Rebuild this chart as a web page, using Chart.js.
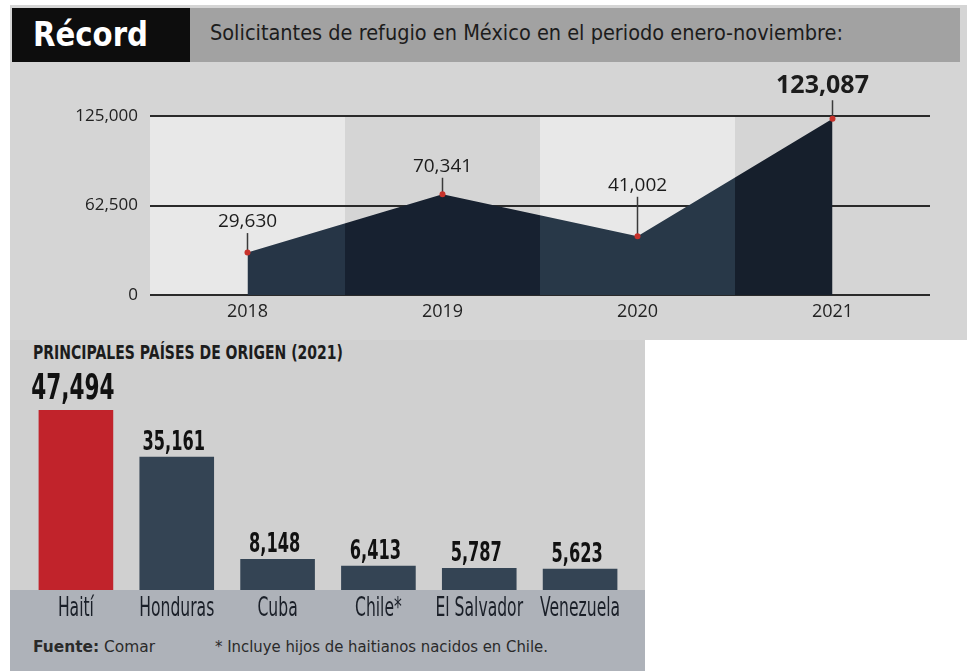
<!DOCTYPE html>
<html lang="es">
<head>
<meta charset="utf-8">
<title>Récord - Solicitantes de refugio en México</title>
<script src="https://cdn.jsdelivr.net/npm/chart.js@4.4.1/dist/chart.umd.min.js"></script>
<style>
  body { margin: 0; background: #fff; width: 967px; height: 671px; position: relative; overflow: hidden; font-family: "Open Sans", "Noto Sans", sans-serif; }
  .abs { position: absolute; }
  #topBg { left: 10px; top: 5px; width: 957px; height: 335px; background: #d5d5d5; }
  #headBand { left: 190px; top: 8px; width: 770px; height: 54px; background: #a2a2a2; }
  #recordBox { left: 12px; top: 8px; width: 178px; height: 54px; background: #0d0d0d; }
  #recordTxt { left: 33px; top: 8px; height: 54px; color: #fff; white-space: nowrap;
    font: bold 33px "DejaVu Sans", sans-serif; line-height: 54px; }
  #headTitle { left: 210px; top: 8px; height: 54px; color: #1c1c1c; white-space: nowrap;
    font: 21px "DejaVu Sans", sans-serif; line-height: 50px; }
  #botBg { left: 10px; top: 340px; width: 635px; height: 331px; background: #d0d0d0; }
  #botBand { left: 10px; top: 590px; width: 635px; height: 81px; background: #aeb2b9; }
  #botTitle { left: 33px; top: 340px; color: #1c1c1c; white-space: nowrap;
    font: bold 20px "DejaVu Sans", sans-serif; }
  #footer { left: 33px; top: 637px; color: #2a2a2a; white-space: nowrap; font: 16px "DejaVu Sans", sans-serif; }
  #note { left: 215px; top: 637px; color: #2a2a2a; white-space: nowrap; font: 16px "DejaVu Sans", sans-serif; }
  #topChart { left: 0; top: 70px; }
  #botChart { left: 0; top: 340px; }
</style>
</head>
<body>
<div class="abs" id="topBg"></div>
<div class="abs" id="headBand"></div>
<div class="abs" id="recordBox"></div>
<div class="abs" id="recordTxt">Récord</div>
<div class="abs" id="headTitle">Solicitantes de refugio en México en el periodo enero-noviembre:</div>
<div class="abs" id="botBg"></div>
<div class="abs" id="botBand"></div>
<div class="abs" id="botTitle">PRINCIPALES PAÍSES DE ORIGEN (2021)</div>
<div class="abs" id="footer"><b>Fuente:</b> Comar</div>
<div class="abs" id="note">* Incluye hijos de haitianos nacidos en Chile.</div>
<canvas class="abs" id="topChart" width="967" height="270"></canvas>
<canvas class="abs" id="botChart" width="645" height="331"></canvas>

<script>
// ---- datos ----
const years = ['2018', '2019', '2020', '2021'];
const requests = [29630, 70341, 41002, 123087];
const yTicks = [0, 62500, 125000];

const countries = ['Haití', 'Honduras', 'Cuba', 'Chile*', 'El Salvador', 'Venezuela'];
const byCountry = [47494, 35161, 8148, 6413, 5787, 5623];

// ---- estilos ----
const labelLift = [31, 28, 51, 33];          // distancia etiqueta-punto
const barColors = ['#c1232b', '#344454', '#344454', '#344454', '#344454', '#344454'];
const COND = '"DejaVu Sans", sans-serif';
const SANS = '"Open Sans", "Noto Sans", sans-serif';
const SQUEEZE = 0.6;                           // tipografía condensada del original
const fmt = v => v.toLocaleString('en-US');

// ajustar ancho de los textos al original
function fitWidth(id, target, origin) {
  const el = document.getElementById(id);
  el.style.transformOrigin = origin;
  el.style.transform = `scaleX(${target / el.getBoundingClientRect().width})`;
}
fitWidth('recordTxt', 115, 'left center');
fitWidth('headTitle', 633, 'left center');
fitWidth('botTitle', 310, 'left top');
fitWidth('footer', 122, 'left top');
fitWidth('note', 333, 'left top');

function squeezedText(ctx, txt, x, y, sx) {
  ctx.save();
  ctx.translate(x, y);
  ctx.scale(sx, 1);
  ctx.fillText(txt, 0, 0);
  ctx.restore();
}

/* ---------- gráfica de área ---------- */
const stripes = {
  id: 'stripes',
  beforeDraw(chart) {
    const { ctx, chartArea: a } = chart;
    const w = (a.right - a.left) / years.length;
    ctx.save();
    ctx.fillStyle = '#e8e8e8';
    for (let i = 0; i < years.length; i += 2) ctx.fillRect(a.left + i * w, a.top, w, a.bottom - a.top);
    ctx.restore();
  }
};

const pointLabels = {
  id: 'pointLabels',
  afterDatasetsDraw(chart) {
    const { ctx } = chart;
    const pts = chart.getDatasetMeta(0).data;
    ctx.save();
    pts.forEach((p, i) => {
      const last = i === pts.length - 1;
      const size = last ? 25 : 19;
      const cy = p.y - labelLift[i];
      ctx.strokeStyle = '#3a3a3a';
      ctx.lineWidth = 1.5;
      ctx.beginPath();
      ctx.moveTo(p.x, cy + size / 2 + 2);
      ctx.lineTo(p.x, p.y - 1);
      ctx.stroke();
      ctx.fillStyle = '#c8322b';
      ctx.beginPath();
      ctx.arc(p.x, p.y, 3, 0, Math.PI * 2);
      ctx.fill();
      ctx.fillStyle = '#1c1c1c';
      ctx.font = `${last ? 'bold ' : ''}${size}px ${SANS}`;
      ctx.textAlign = 'center';
      ctx.textBaseline = 'middle';
      ctx.fillText(fmt(requests[i]), last ? p.x - 10 : p.x, cy);
    });
    ctx.restore();
  }
};

function bandFill(c) {
  const a = c.chart.chartArea;
  if (!a) return '#263444';
  const g = c.chart.ctx.createLinearGradient(a.left, 0, a.right, 0);
  const cols = ['#263546', '#172130', '#283848', '#161f2c'];
  cols.forEach((col, i) => {
    g.addColorStop(i / cols.length, col);
    g.addColorStop((i + 1) / cols.length - 0.0001, col);
  });
  return g;
}

new Chart(document.getElementById('topChart').getContext('2d'), {
  type: 'line',
  data: {
    labels: years,
    datasets: [{
      data: requests,
      fill: 'origin',
      backgroundColor: bandFill,
      borderWidth: 0,
      pointRadius: 0,
      tension: 0
    }]
  },
  options: {
    responsive: false,
    animation: false,
    layout: { padding: { top: 46, right: 37, left: 0, bottom: 0 } },
    plugins: { legend: { display: false }, tooltip: { enabled: false } },
    scales: {
      x: {
        offset: true,
        grid: { display: false, drawTicks: false },
        border: { display: false },
        ticks: { color: '#222', font: { family: SANS, size: 18 }, padding: 6 },
        afterFit: s => { s.height = 45; }
      },
      y: {
        min: 0, max: 125000,
        afterBuildTicks: s => { s.ticks = yTicks.map(v => ({ value: v })); },
        grid: { color: '#2a2a2a', lineWidth: 2, drawTicks: false },
        border: { display: false },
        ticks: { color: '#222', font: { family: SANS, size: 17 }, padding: 12, callback: v => fmt(v) },
        afterFit: s => { s.width = 150; }
      }
    }
  },
  plugins: [stripes, pointLabels]
});

/* ---------- barras por país ---------- */
const barLabels = {
  id: 'barLabels',
  afterDatasetsDraw(chart) {
    const { ctx } = chart;
    ctx.save();
    ctx.fillStyle = '#111';
    ctx.textAlign = 'center';
    ctx.textBaseline = 'alphabetic';
    chart.getDatasetMeta(0).data.forEach((b, i) => {
      ctx.font = `bold ${i === 0 ? 36 : 27}px ${COND}`;
      squeezedText(ctx, fmt(byCountry[i]), b.x - 3, b.y - (i === 0 ? 11 : 7), SQUEEZE);
    });
    // etiquetas de categoría
    const x = chart.scales.x;
    ctx.fillStyle = '#1a1f28';
    ctx.font = `26px ${COND}`;
    ctx.textBaseline = 'middle';
    x.getLabels().forEach((lab, i) => {
      squeezedText(ctx, lab, x.getPixelForTick(i), chart.chartArea.bottom + 19, SQUEEZE);
    });
    ctx.restore();
  }
};

new Chart(document.getElementById('botChart').getContext('2d'), {
  type: 'bar',
  data: {
    labels: countries,
    datasets: [{
      data: byCountry,
      backgroundColor: barColors,
      categoryPercentage: 1,
      barPercentage: 0.74
    }]
  },
  options: {
    responsive: false,
    animation: false,
    layout: { padding: { top: 60.5, right: 14.5, left: 25.5, bottom: 0 } },
    plugins: { legend: { display: false }, tooltip: { enabled: false } },
    scales: {
      x: {
        grid: { display: false, drawTicks: false },
        border: { display: false },
        ticks: { display: false },
        afterFit: s => { s.height = 81; }
      },
      y: { display: false, min: 0, max: 50000 }
    }
  },
  plugins: [barLabels]
});
</script>
</body>
</html>
